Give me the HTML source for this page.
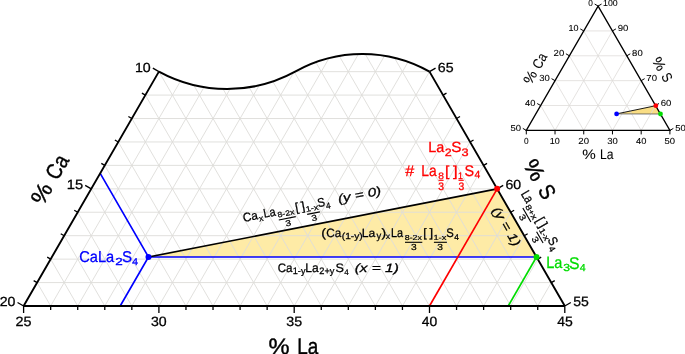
<!DOCTYPE html>
<html><head><meta charset="utf-8"><style>
html,body{margin:0;padding:0;background:#fff;overflow:hidden;}
svg{display:block;will-change:transform;}
</style></head><body>
<svg width="685" height="354" viewBox="0 0 685 354" font-family='"Liberation Sans", sans-serif' text-rendering="geometricPrecision">
<rect width="685" height="354" fill="#fff"/>
<defs><clipPath id="reg"><path d="M23.6,306 L564.8,306 L429.5,71.65 A136.6,136.6 0 0 0 295.6,71.4 A142.4,142.4 0 0 1 158.9,71.65 Z"/></clipPath></defs>
<polygon points="148.5,257 497.15,188.83 536.5,257" fill="#feeba6"/>
<path d="M37.13,282.57L551.27,282.57M50.66,259.13L537.74,259.13M64.19,235.7L524.21,235.7M77.72,212.26L510.68,212.26M91.25,188.83L497.15,188.83M104.78,165.39L483.62,165.39M118.31,141.96L470.09,141.96M131.84,118.52L456.56,118.52M145.37,95.09L443.03,95.09M158.9,71.65L429.5,71.65M50.66,306L226.55,1.35M77.72,306L253.61,1.35M104.78,306L280.67,1.35M131.84,306L307.73,1.35M158.9,306L334.79,1.35M185.96,306L361.85,1.35M213.02,306L388.91,1.35M240.08,306L402.44,24.78M267.14,306L415.97,48.22M294.2,306L429.5,71.65M321.26,306L443.03,95.09M348.32,306L456.56,118.52M375.38,306L470.09,141.96M402.44,306L483.62,165.39M429.5,306L497.15,188.83M456.56,306L510.68,212.26M483.62,306L524.21,235.7M510.68,306L537.74,259.13M537.74,306L551.27,282.57M537.74,306L361.85,1.35M510.68,306L334.79,1.35M483.62,306L307.73,1.35M456.56,306L280.67,1.35M429.5,306L253.61,1.35M402.44,306L226.55,1.35M375.38,306L199.49,1.35M348.32,306L185.96,24.78M321.26,306L172.43,48.22M294.2,306L158.9,71.65M267.14,306L145.37,95.09M240.08,306L131.84,118.52M213.02,306L118.31,141.96M185.96,306L104.78,165.39M158.9,306L91.25,188.83M131.84,306L77.72,212.26M104.78,306L64.19,235.7M77.72,306L50.66,259.13M50.66,306L37.13,282.57" stroke="#dedcd9" stroke-width="0.9" fill="none" clip-path="url(#reg)"/>
<path d="M100.2,173.3L148.5,257L120.2,306M148.5,257L536.5,257" stroke="#0000ff" stroke-width="1.65" fill="none"/>
<path d="M497.15,188.83L429.5,306" stroke="#ff0000" stroke-width="1.65" fill="none"/>
<path d="M536.5,257L508.2,306" stroke="#00dc00" stroke-width="1.65" fill="none"/>
<path d="M148.5,257L497.15,188.83" stroke="#000" stroke-width="1.65" fill="none"/>
<path d="M158.9,71.65L23.6,306M564.8,306L429.5,71.65" stroke="#000" stroke-width="1.9" fill="none"/>
<path d="M23.6,306L564.8,306" stroke="#000" stroke-width="2.2" fill="none"/>
<path d="M158.9,71.65 A142.4,142.4 0 0 0 295.6,71.4 A136.6,136.6 0 0 1 429.5,71.65" stroke="#000" stroke-width="2.1" fill="none"/>
<path d="M23.6,306v7M50.66,306v4M77.72,306v4M104.78,306v4M131.84,306v4M158.9,306v7M185.96,306v4M213.02,306v4M240.08,306v4M267.14,306v4M294.2,306v7M321.26,306v4M348.32,306v4M375.38,306v4M402.44,306v4M429.5,306v7M456.56,306v4M483.62,306v4M510.68,306v4M537.74,306v4M564.8,306v7M158.9,71.65l-6.06,-3.5M145.37,95.09l-3.46,-2M131.84,118.52l-3.46,-2M118.31,141.96l-3.46,-2M104.78,165.39l-3.46,-2M91.25,188.83l-6.06,-3.5M77.72,212.26l-3.46,-2M64.19,235.7l-3.46,-2M50.66,259.13l-3.46,-2M37.13,282.57l-3.46,-2M23.6,306l-6.06,-3.5M564.8,306l6.06,-3.5M551.27,282.57l3.46,-2M537.74,259.13l3.46,-2M524.21,235.7l3.46,-2M510.68,212.26l3.46,-2M497.15,188.83l6.06,-3.5M483.62,165.39l3.46,-2M470.09,141.96l3.46,-2M456.56,118.52l3.46,-2M443.03,95.09l3.46,-2M429.5,71.65l6.06,-3.5" stroke="#000" stroke-width="1.3" fill="none"/>
<circle cx="148.5" cy="257" r="3" fill="#0000ff"/>
<circle cx="497.15" cy="188.83" r="3" fill="#ff0000"/>
<circle cx="536.5" cy="257" r="3" fill="#00dc00"/>
<g stroke="#000" stroke-width="0.28">
<text transform="translate(15.53,326.47) scale(1.077,1)" font-size="13.38">25</text>
<text transform="translate(150.98,326.47) scale(1.056,1)" font-size="13.38">30</text>
<text transform="translate(286.28,326.47) scale(1.067,1)" font-size="13.38">35</text>
<text transform="translate(421.87,326.47) scale(1.036,1)" font-size="13.38">40</text>
<text transform="translate(557.17,326.46) scale(1.032,1)" font-size="13.57">45</text>
<text transform="translate(134.9,71.82) scale(1.073,1)" font-size="13.24">10</text>
<text transform="translate(66.81,188.99) scale(1.098,1)" font-size="13.43">15</text>
<text transform="translate(-0.37,306.17) scale(1.071,1)" font-size="13.24">20</text>
<text transform="translate(573.2,306.17) scale(1.048,1)" font-size="13.43">55</text>
<text transform="translate(505.41,188.99) scale(1.063,1)" font-size="13.24">60</text>
<text transform="translate(437.75,71.82) scale(1.074,1)" font-size="13.24">65</text>
</g>
<g stroke="#000" stroke-width="0.4">
<text transform="translate(268.45,354.38) scale(1.065,1)" font-size="22.25">%</text>
<text transform="translate(297.18,354.37) scale(0.839,1)" font-size="22.57">La</text>
<g transform="translate(49.9,179.1) rotate(-60) translate(-26.3,7.9)">
<text transform="translate(-0.95,-0.22) scale(1.065,1)" font-size="22.25">%</text>
<text transform="translate(28.35,-0.22) scale(0.851,1)" font-size="22.25">Ca</text>
</g>
<g transform="translate(539.7,179.1) rotate(60) translate(-20.15,7.9)">
<text transform="translate(-0.95,-0.22) scale(1.065,1)" font-size="22.25">%</text>
<text transform="translate(28.34,-0.22) scale(0.867,1)" font-size="22.25">S</text>
</g>
</g>
<g transform="translate(0,0) rotate(0)" fill="#0000ff" stroke="#0000ff" stroke-width="0.28">
<text transform="translate(79.27,262.34) scale(0.935,1)" font-size="15.63">CaLa</text>
<text transform="translate(115.33,265.2) scale(1.310,1)" font-size="10.29" stroke-width="0.29">2</text>
<text transform="translate(122.05,262.34) scale(0.965,1)" font-size="15.63">S</text>
<text transform="translate(132.08,265) scale(1.098,1)" font-size="10.00" stroke-width="0.28">4</text>
</g>
<g transform="translate(0,0) rotate(0)" fill="#ff0000" stroke="#ff0000" stroke-width="0.28">
<text transform="translate(428.35,152.05) scale(0.990,1)" font-size="14.57">La</text>
<text transform="translate(444.78,155.6) scale(1.157,1)" font-size="10.71" stroke-width="0.30">2</text>
<text transform="translate(451.24,152.15) scale(1.032,1)" font-size="14.79">S</text>
<text transform="translate(461.49,155.69) scale(1.177,1)" font-size="10.85" stroke-width="0.30">3</text>
<text transform="translate(405.3,176.4) scale(1.063,1)" font-size="15.22">#</text>
<text transform="translate(421.29,176.14) scale(0.881,1)" font-size="15.71">La</text>
<text transform="translate(438.29,179.21) scale(1.099,1)" font-size="9.30" stroke-width="0.26">8</text>
<path d="M438.5,180.3H443.6" stroke="#ff0000" stroke-width="1.1"/>
<text transform="translate(438.34,189.69) scale(0.952,1)" font-size="10.85" stroke-width="0.30">3</text>
<text transform="translate(444.9,175.71) scale(1.089,1)" font-size="14.46">[</text>
<text transform="translate(452.97,175.71) scale(1.162,1)" font-size="14.46">]</text>
<text transform="translate(458.09,179.3) scale(0.924,1)" font-size="9.57" stroke-width="0.27">1</text>
<path d="M458.5,180.3H463.75" stroke="#ff0000" stroke-width="1.1"/>
<text transform="translate(458.49,189.69) scale(0.952,1)" font-size="10.85" stroke-width="0.30">3</text>
<text transform="translate(464.48,176.15) scale(0.929,1)" font-size="15.49">S</text>
<text transform="translate(474.59,178.3) scale(0.996,1)" font-size="10.43" stroke-width="0.29">4</text>
</g>
<g transform="translate(0,0) rotate(0)" fill="#00dc00" stroke="#00dc00" stroke-width="0.28">
<text transform="translate(546.24,268.34) scale(0.884,1)" font-size="16.43">La</text>
<text transform="translate(563.31,271) scale(1.180,1)" font-size="10.28" stroke-width="0.29">3</text>
<text transform="translate(569.11,268.53) scale(0.934,1)" font-size="16.90">S</text>
<text transform="translate(579.69,270.8) scale(1.044,1)" font-size="10.14" stroke-width="0.28">4</text>
</g>
<g transform="translate(0,0) rotate(0)" fill="#000" stroke="#000" stroke-width="0.28">
<text transform="translate(321.35,237.33) scale(1.161,1)" font-size="12.26">(</text>
<text transform="translate(326.31,236.78) scale(0.967,1)" font-size="12.11">Ca</text>
<text transform="translate(341.79,239.35) scale(1.152,1)" font-size="8.82" stroke-width="0.25">(1-y)</text>
<text transform="translate(361.73,236.68) scale(1.022,1)" font-size="11.86">La</text>
<text transform="translate(376.4,239.4) scale(0.940,1)" font-size="10.00" stroke-width="0.28">y</text>
<text transform="translate(381.46,237.33) scale(1.161,1)" font-size="12.26">)</text>
<text transform="translate(385.71,239.4) scale(1.078,1)" font-size="8.11" stroke-width="0.23">x</text>
<text transform="translate(390.93,236.67) scale(0.864,1)" font-size="12.57">La</text>
<text transform="translate(404.75,239.93) scale(1.231,1)" font-size="7.18" stroke-width="0.20">8-2x</text>
<path d="M405,242.3H422.3" stroke="#000" stroke-width="1.1"/>
<text transform="translate(410.89,250.01) scale(1.170,1)" font-size="8.73" stroke-width="0.24">3</text>
<text transform="translate(423.35,236.75) scale(1.000,1)" font-size="12.15">[</text>
<text transform="translate(429.58,236.75) scale(1.067,1)" font-size="12.15">]</text>
<text transform="translate(433.46,240) scale(1.259,1)" font-size="7.39" stroke-width="0.21">1-x</text>
<path d="M433.9,242.3H446.9" stroke="#000" stroke-width="1.1"/>
<text transform="translate(437.29,250.01) scale(1.170,1)" font-size="8.73" stroke-width="0.24">3</text>
<text transform="translate(446.34,236.68) scale(0.906,1)" font-size="12.39">S</text>
<text transform="translate(454.23,239.8) scale(0.986,1)" font-size="8.55" stroke-width="0.24">4</text>
</g>
<g transform="translate(0,0) rotate(0)" fill="#000" stroke="#000" stroke-width="0.28">
<text transform="translate(277.72,272.08) scale(0.949,1)" font-size="12.25">Ca</text>
<text transform="translate(292.77,274.32) scale(0.970,1)" font-size="9.44" stroke-width="0.26">1-y</text>
<text transform="translate(305.34,272.08) scale(0.967,1)" font-size="12.43">La</text>
<text transform="translate(319.34,274.34) scale(0.990,1)" font-size="9.34" stroke-width="0.26">2+y</text>
<text transform="translate(335.47,272.08) scale(1.031,1)" font-size="12.25">S</text>
<text transform="translate(344.14,274.6) scale(0.991,1)" font-size="8.12" stroke-width="0.23">4</text>
<text transform="translate(354.73,271.97) scale(1.280,1)" font-size="12.04" font-style="italic">(x = 1)</text>
</g>
<g transform="translate(244.3,221.8) rotate(-11.06)" fill="#000" stroke="#000" stroke-width="0.28">
<text transform="translate(-0.59,0.08) scale(0.955,1)" font-size="12.25">Ca</text>
<text transform="translate(15.01,2.7) scale(1.078,1)" font-size="8.11" stroke-width="0.23">x</text>
<text transform="translate(20.43,-0.03) scale(0.864,1)" font-size="12.57">La</text>
<text transform="translate(33.95,2.23) scale(1.185,1)" font-size="7.46" stroke-width="0.21">8-2x</text>
<path d="M34.2,4.8H51.5" stroke="#000" stroke-width="1.1"/>
<text transform="translate(40.09,12.52) scale(1.209,1)" font-size="8.45" stroke-width="0.24">3</text>
<text transform="translate(52.55,0.05) scale(1.000,1)" font-size="12.15">[</text>
<text transform="translate(58.78,0.05) scale(1.067,1)" font-size="12.15">]</text>
<text transform="translate(62.66,2.3) scale(1.212,1)" font-size="7.68" stroke-width="0.22">1-x</text>
<path d="M63.1,4.8H76.1" stroke="#000" stroke-width="1.1"/>
<text transform="translate(66.49,12.52) scale(1.209,1)" font-size="8.45" stroke-width="0.24">3</text>
<text transform="translate(75.34,-0.02) scale(0.906,1)" font-size="12.39">S</text>
<text transform="translate(83.23,3.1) scale(0.986,1)" font-size="8.55" stroke-width="0.24">4</text>
<text transform="translate(96.23,-0.33) scale(1.277,1)" font-size="12.04" font-style="italic">(y = 0)</text>
</g>
<g transform="translate(520.8,194.4) rotate(60) scale(1.0,1.05)" fill="#000" stroke="#000" stroke-width="0.28">
<text transform="translate(-0.87,-0.03) scale(0.864,1)" font-size="12.57">La</text>
<text transform="translate(12.51,2.23) scale(1.314,1)" font-size="7.46" stroke-width="0.21">8+x</text>
<path d="M12.8,4.8H28.9" stroke="#000" stroke-width="1.1"/>
<text transform="translate(17.99,12.52) scale(1.209,1)" font-size="8.45" stroke-width="0.24">3</text>
<text transform="translate(29.75,0.05) scale(1.000,1)" font-size="12.15">[</text>
<text transform="translate(35.98,0.05) scale(1.067,1)" font-size="12.15">]</text>
<text transform="translate(39.86,2.3) scale(1.212,1)" font-size="7.68" stroke-width="0.22">1-x</text>
<path d="M40.3,4.8H53.3" stroke="#000" stroke-width="1.1"/>
<text transform="translate(43.69,12.52) scale(1.209,1)" font-size="8.45" stroke-width="0.24">3</text>
<text transform="translate(52.74,-0.02) scale(0.906,1)" font-size="12.39">S</text>
<text transform="translate(60.63,3.1) scale(0.986,1)" font-size="8.55" stroke-width="0.24">4</text>
</g>
<g stroke="#000" stroke-width="0.28">
<text transform="translate(505.6,227) rotate(60) translate(-21.55,3.21) scale(1.200,1)" font-size="12.60" font-style="italic">(y = 1)</text>
</g>
<polygon points="616.6,113.9 655.8,105.7 660.5,114" fill="#f9dd84"/>
<path d="M540.66,105.53L655.54,105.53M555.02,80.66L641.18,80.66M569.38,55.79L626.82,55.79M583.74,30.92L612.46,30.92M555.02,130.4L612.46,30.92M583.74,130.4L626.82,55.79M612.46,130.4L641.18,80.66M641.18,130.4L655.54,105.53M641.18,130.4L583.74,30.92M612.46,130.4L569.38,55.79M583.74,130.4L555.02,80.66M555.02,130.4L540.66,105.53" stroke="#dedcd9" stroke-width="0.8" fill="none"/>
<path d="M616.6,113.9L655.8,105.7" stroke="#000" stroke-width="0.9"/>
<path d="M616.6,113.9L660.5,114" stroke="#555" stroke-width="0.8"/>
<path d="M598.1,6.05L526.3,130.4L669.9,130.4Z" stroke="#000" stroke-width="1.3" fill="none" stroke-linejoin="miter"/>
<path d="M526.3,130.4v4.0M598.1,6.05l-3.46,-2M598.1,6.05l3.46,-2M555.02,130.4v4.0M583.74,30.92l-3.46,-2M612.46,30.92l3.46,-2M583.74,130.4v4.0M569.38,55.79l-3.46,-2M626.82,55.79l3.46,-2M612.46,130.4v4.0M555.02,80.66l-3.46,-2M641.18,80.66l3.46,-2M641.18,130.4v4.0M540.66,105.53l-3.46,-2M655.54,105.53l3.46,-2M669.9,130.4v4.0M526.3,130.4l-3.46,-2M669.9,130.4l3.46,-2" stroke="#000" stroke-width="1" fill="none"/>
<circle cx="616.6" cy="113.9" r="2.4" fill="#0000ff"/>
<circle cx="655.8" cy="105.7" r="2.4" fill="#ff0000"/>
<circle cx="660.5" cy="114" r="2.4" fill="#00dc00"/>
<g stroke="#000" stroke-width="0.08">
<text transform="translate(523.97,143.81) scale(0.954,1)" font-size="8.73">0</text>
<text transform="translate(588.3,6.46) scale(0.954,1)" font-size="8.73">0</text>
<text transform="translate(603.06,6.36) scale(1.005,1)" font-size="8.73">100</text>
<text transform="translate(549.8,143.81) scale(1.031,1)" font-size="8.73">10</text>
<text transform="translate(568.56,31.33) scale(1.031,1)" font-size="8.73">10</text>
<text transform="translate(617.64,31.23) scale(1.101,1)" font-size="8.73">90</text>
<text transform="translate(578.31,143.81) scale(1.101,1)" font-size="8.73">20</text>
<text transform="translate(553.54,56.2) scale(1.101,1)" font-size="8.73">20</text>
<text transform="translate(632.1,56.1) scale(1.090,1)" font-size="8.73">80</text>
<text transform="translate(607.13,143.81) scale(1.090,1)" font-size="8.73">30</text>
<text transform="translate(539.28,81.07) scale(1.090,1)" font-size="8.73">30</text>
<text transform="translate(646.36,80.97) scale(1.101,1)" font-size="8.73">70</text>
<text transform="translate(636.04,143.81) scale(1.070,1)" font-size="8.73">40</text>
<text transform="translate(525.11,105.94) scale(1.070,1)" font-size="8.73">40</text>
<text transform="translate(660.72,105.84) scale(1.101,1)" font-size="8.73">60</text>
<text transform="translate(664.57,143.81) scale(1.090,1)" font-size="8.73">50</text>
<text transform="translate(510.56,130.81) scale(1.090,1)" font-size="8.73">50</text>
<text transform="translate(675.18,130.71) scale(1.090,1)" font-size="8.73">50</text>
<text transform="translate(582.29,158.86) scale(1.100,1)" font-size="13.80">%</text>
<text transform="translate(600.03,158.86) scale(0.865,1)" font-size="14.00">La</text>
<g transform="translate(535.2,68.3) rotate(-60) translate(-16.5,5.05)">
<text transform="translate(-0.61,-0.14) scale(1.067,1)" font-size="14.23">%</text>
<text transform="translate(17.49,-0.14) scale(0.852,1)" font-size="14.23">Ca</text>
</g>
<g transform="translate(662.4,69.5) rotate(60) translate(-12.5,5.05)">
<text transform="translate(-0.61,-0.14) scale(1.067,1)" font-size="14.23">%</text>
<text transform="translate(17.49,-0.14) scale(0.851,1)" font-size="14.23">S</text>
</g>
</g>
</svg>
</body></html>
